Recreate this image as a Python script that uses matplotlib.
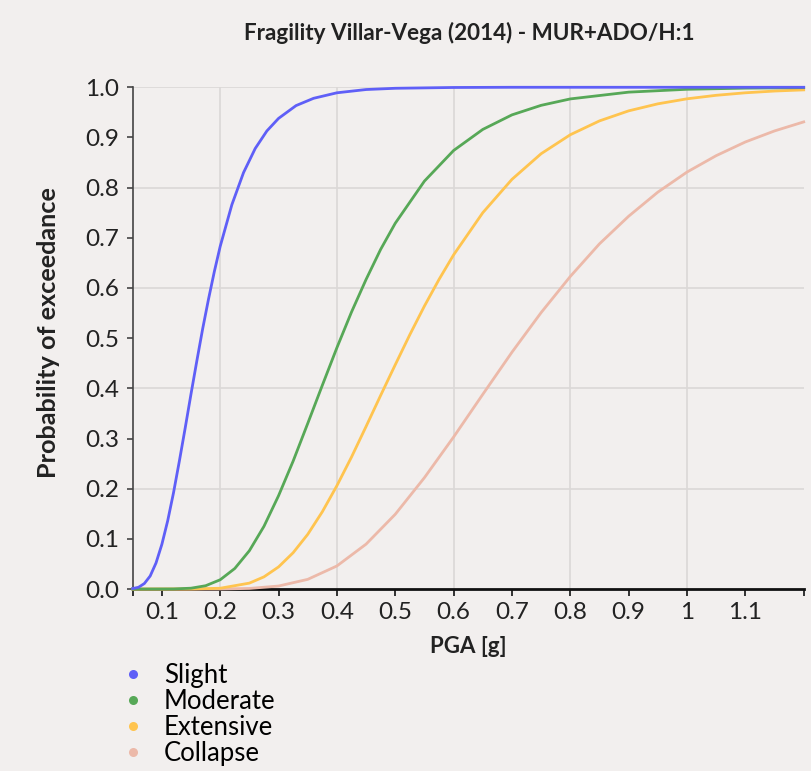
import matplotlib
matplotlib.use("Agg")
import matplotlib.pyplot as plt
from matplotlib.lines import Line2D

plt.rcParams['font.family'] = ['Lato', 'DejaVu Sans']

# values (PGA in g, probability of exceedance)
slight_x = [0.05, 0.06, 0.07, 0.08, 0.09, 0.10, 0.11, 0.12, 0.13, 0.14, 0.15, 0.16,
            0.17, 0.18, 0.19, 0.20, 0.22, 0.24, 0.26, 0.28, 0.30, 0.33, 0.36, 0.40,
            0.45, 0.50, 0.60, 0.70, 0.80, 1.0, 1.2]
slight_y = [0.001, 0.0035, 0.011, 0.026, 0.052, 0.089, 0.136, 0.192, 0.255, 0.321,
            0.389, 0.455, 0.519, 0.578, 0.633, 0.683, 0.766, 0.830, 0.878, 0.913,
            0.938, 0.9635, 0.978, 0.989, 0.9955, 0.998, 0.9996, 1.0, 1.0, 1.0, 1.0]

moderate_x = [0.05, 0.12, 0.15, 0.175, 0.20, 0.225, 0.25, 0.275, 0.30, 0.325, 0.35,
              0.375, 0.40, 0.425, 0.45, 0.475, 0.50, 0.55, 0.60, 0.65, 0.70, 0.75,
              0.80, 0.90, 1.0, 1.1, 1.2]
moderate_y = [0.0, 0.0002, 0.0017, 0.0066, 0.0185, 0.041, 0.0764, 0.125, 0.186, 0.255,
              0.330, 0.406, 0.481, 0.552, 0.617, 0.677, 0.729, 0.813, 0.874, 0.916,
              0.945, 0.964, 0.9768, 0.9903, 0.996, 0.9983, 0.9993]

extensive_x = [0.05, 0.15, 0.20, 0.25, 0.275, 0.30, 0.325, 0.35, 0.375, 0.40, 0.425,
               0.45, 0.475, 0.50, 0.525, 0.55, 0.575, 0.60, 0.65, 0.70, 0.75, 0.80,
               0.85, 0.90, 0.95, 1.0, 1.05, 1.1, 1.15, 1.2]
extensive_y = [0.0, 0.0001, 0.0016, 0.0118, 0.0243, 0.0441, 0.0724, 0.109, 0.154, 0.206,
               0.263, 0.324, 0.386, 0.447, 0.507, 0.564, 0.617, 0.666, 0.750, 0.8165,
               0.8676, 0.9054, 0.933, 0.953, 0.967, 0.977, 0.984, 0.989, 0.9925, 0.9948]

collapse_x = [0.05, 0.20, 0.25, 0.30, 0.35, 0.40, 0.45, 0.50, 0.55, 0.60, 0.65, 0.70,
              0.75, 0.80, 0.85, 0.90, 0.95, 1.0, 1.05, 1.1, 1.15, 1.2]
collapse_y = [0.0, 0.0001, 0.0012, 0.006, 0.0193, 0.046, 0.0895, 0.149, 0.222, 0.303,
              0.388, 0.472, 0.551, 0.623, 0.688, 0.743, 0.791, 0.831, 0.8637, 0.891,
              0.913, 0.931]

labels = ["Slight", "Moderate", "Extensive", "Collapse"]
colors = ["#5f5ff7", "#57a857", "#ffc44f", "#ecb9a9"]

x_ticks = [0.1, 0.2, 0.3, 0.4, 0.5, 0.6, 0.7, 0.8, 0.9, 1.0, 1.1]
x_tick_labels = ["0.1", "0.2", "0.3", "0.4", "0.5", "0.6", "0.7", "0.8", "0.9", "1", "1.1"]
y_ticks = [0.0, 0.1, 0.2, 0.3, 0.4, 0.5, 0.6, 0.7, 0.8, 0.9, 1.0]

bg = "#f2efee"
fig = plt.figure(figsize=(8.11, 7.71), dpi=100, facecolor=bg)
ax = fig.add_axes([0.1636, 0.236, 0.8274, 0.6508], facecolor=bg)

# grid (even ticks only)
for g in [0.2, 0.4, 0.6, 0.8, 1.0]:
    ax.axhline(g, color="#dbd8d7", lw=1.2, zorder=0)
    ax.axvline(g, color="#dbd8d7", lw=1.2, zorder=0)

series = [(slight_x, slight_y), (moderate_x, moderate_y),
          (extensive_x, extensive_y), (collapse_x, collapse_y)]
for (xs, ys), c in zip(series[::-1], colors[::-1]):
    ax.plot(xs, ys, color=c, lw=2.0, solid_joinstyle="round", clip_on=False, zorder=3)

ax.set_xlim(0.05, 1.2)
ax.set_ylim(0, 1)

ax.set_xticks([0.05] + x_ticks + [1.2])
ax.set_xticklabels([""] + x_tick_labels + [""])
ax.set_yticks(y_ticks)
ax.set_yticklabels(["%.1f" % v for v in y_ticks])

for s in ["top", "right"]:
    ax.spines[s].set_visible(False)
ax.spines["left"].set_color("#444444")
ax.spines["left"].set_linewidth(1.2)
ax.spines["bottom"].set_color("#111111")
ax.spines["bottom"].set_linewidth(2.0)
ax.tick_params(axis="x", length=5, width=1.2, color="#111111", labelsize=17.5,
               labelcolor="#222222", pad=4)
ax.tick_params(axis="y", length=4.5, width=1.2, color="#444444", labelsize=17.5,
               labelcolor="#222222", pad=5)

ax.set_ylabel("Probability of exceedance", fontsize=18.2, fontweight="bold", color="#222222")
ax.yaxis.set_label_coords(-0.108, 0.511)
ax.set_xlabel("PGA [g]", fontsize=16, fontweight="bold", color="#222222")
ax.xaxis.set_label_coords(0.5, -0.093)

fig.text(0.579, 1 - 33 / 771, "Fragility Villar-Vega (2014) - MUR+ADO/H:1",
         ha="center", va="center", fontsize=16.2, fontweight="bold", color="#222222")

handles = [Line2D([], [], ls="", marker="o", markersize=6.5, color=c, markeredgewidth=0)
           for c in colors]
fig.legend(handles, labels, loc="upper left", bbox_to_anchor=(0.1513, 1 - 663 / 771),
           frameon=False, fontsize=18.5, handlelength=0.8, handletextpad=0.81,
           labelspacing=0.045, borderpad=0, borderaxespad=0)

fig.savefig("out.png", dpi=100, facecolor=bg)
